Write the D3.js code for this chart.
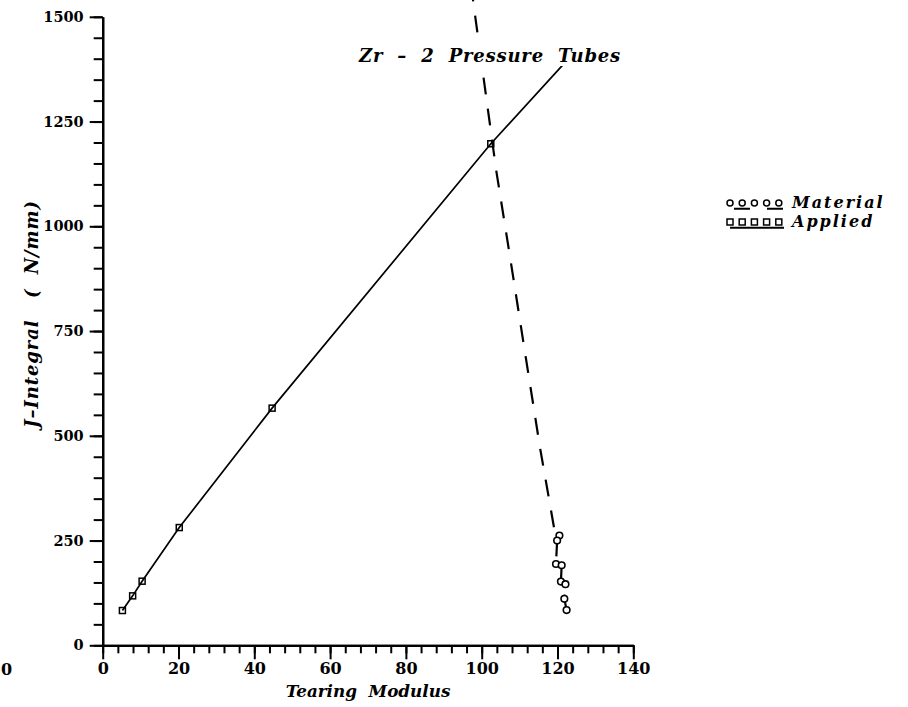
<!DOCTYPE html>
<html>
<head>
<meta charset="utf-8">
<script src="https://cdn.jsdelivr.net/npm/d3@7"></script>
<style>
  html, body { margin: 0; padding: 0; background: #fff; }
  svg { display: block; }
  text { font-family: "DejaVu Serif", serif; fill: #000; white-space: pre; }
</style>
</head>
<body>
<svg id="chart" width="908" height="707"></svg>
<script>
// Applied J vs tearing modulus (squares, solid line)
const appliedT = [5.2, 7.9, 10.4, 20.2, 44.7, 102.4];
const appliedJ = [83, 118, 153, 281, 566, 1197];
// end of the applied line, running on past the last square
const appliedEndT = [122.2];
const appliedEndJ = [1393];

// Material J vs tearing modulus (circles)
const materialT = [120.5, 119.9, 119.6, 121.1, 120.9, 122.1, 121.8, 122.4];
const materialJ = [262, 250, 194, 191, 152, 146, 111, 84];
// material curve extended upward (dashed)
const materialExtT = [96.8, 103.8, 107.7, 110.9, 115.4, 119.1];
const materialExtJ = [1600, 1135, 914, 729, 471, 280];

const xMajor = [0, 20, 40, 60, 80, 100, 120, 140];
const yMajor = [0, 250, 500, 750, 1000, 1250, 1500];

const seriesNames = ["Material", "Applied"];
const titleText = "Zr  \u2013  2  Pressure  Tubes";
const xTitle = "Tearing  Modulus";
const yTitle = "J\u2013Integral   (  N/mm)";

const svg = d3.select("#chart");

const x = d3.scaleLinear().domain([0, 140]).range([102.7, 633.3]);
const y = d3.scaleLinear().domain([0, 1500]).range([645.3, 16.8]);

// ---- axes ----
const xAxisG = svg.append("g").attr("transform", `translate(0,${y(0)})`);
xAxisG.call(d3.axisBottom(x).tickValues(d3.range(0, 141, 4)).tickSize(8).tickSizeOuter(0).tickFormat(""));
xAxisG.append("g").call(d3.axisBottom(x).tickValues(xMajor).tickSize(14).tickSizeOuter(0).tickPadding(3).tickFormat(d3.format("d")));

const yAxisG = svg.append("g").attr("transform", `translate(${x(0)},0)`);
yAxisG.call(d3.axisLeft(y).tickValues(d3.range(0, 1501, 50)).tickSize(9).tickSizeOuter(0).tickFormat(""));
yAxisG.append("g").call(d3.axisLeft(y).tickValues(yMajor).tickSize(13).tickSizeOuter(0).tickPadding(6).tickFormat(d3.format("d")));

svg.selectAll(".domain").attr("stroke", "#000").attr("stroke-width", 2.2);
svg.selectAll(".tick line").attr("stroke", "#000").attr("stroke-width", 2);
xAxisG.selectAll(".tick text")
  .attr("font-family", "DejaVu Serif").attr("font-weight", "bold")
  .attr("font-size", 16).attr("fill", "#000");
yAxisG.selectAll(".tick text")
  .attr("font-family", "DejaVu Serif").attr("font-weight", "bold")
  .attr("font-size", 14.5).attr("fill", "#000");

// stray label at the lower-left edge
svg.append("text").attr("x", 1).attr("y", 675).attr("text-anchor", "start")
  .attr("font-weight", "bold").attr("font-size", 16).text("0");

// ---- lines ----
const line = d3.line().x(d => x(d[0])).y(d => y(d[1]));

const appliedPts = appliedT.map((t, i) => [t, appliedJ[i]])
  .concat(appliedEndT.map((t, i) => [t, appliedEndJ[i]]));
svg.append("path").attr("d", line(appliedPts))
  .attr("fill", "none").attr("stroke", "#000").attr("stroke-width", 1.7);

const materialPts = materialExtT.map((t, i) => [t, materialExtJ[i]])
  .concat(materialT.map((t, i) => [t, materialJ[i]]));
svg.append("path").attr("d", line(materialPts))
  .attr("fill", "none").attr("stroke", "#000").attr("stroke-width", 2.2)
  .attr("stroke-dasharray", "17 14.3").attr("stroke-dashoffset", 21.6);

// ---- markers ----
svg.append("g").selectAll("rect").data(appliedT.map((t, i) => [t, appliedJ[i]]))
  .join("rect")
  .attr("x", d => x(d[0]) - 3).attr("y", d => y(d[1]) - 3)
  .attr("width", 6).attr("height", 6)
  .attr("fill", "none").attr("stroke", "#000").attr("stroke-width", 1.5);

svg.append("g").selectAll("circle").data(materialT.map((t, i) => [t, materialJ[i]]))
  .join("circle")
  .attr("cx", d => x(d[0])).attr("cy", d => y(d[1])).attr("r", 3.3)
  .attr("fill", "#fff").attr("stroke", "#000").attr("stroke-width", 1.6);

// ---- title with a white backing ----
const titleG = svg.append("g");
const title = titleG.append("text").attr("x", 359).attr("y", 62)
  .attr("font-style", "italic").attr("font-weight", "bold").attr("font-size", 18)
  .attr("letter-spacing", 0.8)
  .text(titleText);
const tb = title.node().getBBox();
titleG.insert("rect", "text")
  .attr("x", tb.x - 2).attr("y", tb.y - 1).attr("width", tb.width + 4).attr("height", tb.height + 1)
  .attr("fill", "#fff");

// ---- axis titles ----
svg.append("text").attr("x", x(70)).attr("y", 697).attr("text-anchor", "middle")
  .attr("font-style", "italic").attr("font-weight", "bold").attr("font-size", 16.8)
  .text(xTitle);

svg.append("text")
  .attr("transform", `translate(38,${(195 + 433) / 2}) rotate(-90)`)
  .attr("text-anchor", "middle")
  .attr("font-style", "italic").attr("font-weight", "bold").attr("font-size", 18)
  .attr("letter-spacing", 0.9)
  .text(yTitle);

// ---- legend ----
const legend = svg.append("g").attr("transform", "translate(730,203)");
const rowGap = 19;
const symX = d3.range(5).map(i => i * 12.2);

// Material row: dashed line under circles
legend.append("line").attr("x1", 4).attr("x2", 53).attr("y1", 5.8).attr("y2", 5.8)
  .attr("stroke", "#000").attr("stroke-width", 2).attr("stroke-dasharray", "16 17");
legend.append("g").selectAll("circle").data(symX).join("circle")
  .attr("cx", d => d).attr("cy", 0).attr("r", 3)
  .attr("fill", "#fff").attr("stroke", "#000").attr("stroke-width", 1.5);

// Applied row: solid line under squares
legend.append("line").attr("x1", 0).attr("x2", 54).attr("y1", rowGap + 5.8).attr("y2", rowGap + 5.8)
  .attr("stroke", "#000").attr("stroke-width", 2);
legend.append("g").selectAll("rect").data(symX).join("rect")
  .attr("x", d => d - 3).attr("y", rowGap - 3).attr("width", 6).attr("height", 6)
  .attr("fill", "#fff").attr("stroke", "#000").attr("stroke-width", 1.5);

legend.selectAll("text.lab").data(seriesNames).join("text").attr("class", "lab")
  .attr("x", 62).attr("y", (d, i) => 5 + i * rowGap)
  .attr("font-style", "italic").attr("font-weight", "bold").attr("font-size", 16)
  .attr("letter-spacing", 2)
  .text(d => d);
</script>
</body>
</html>
